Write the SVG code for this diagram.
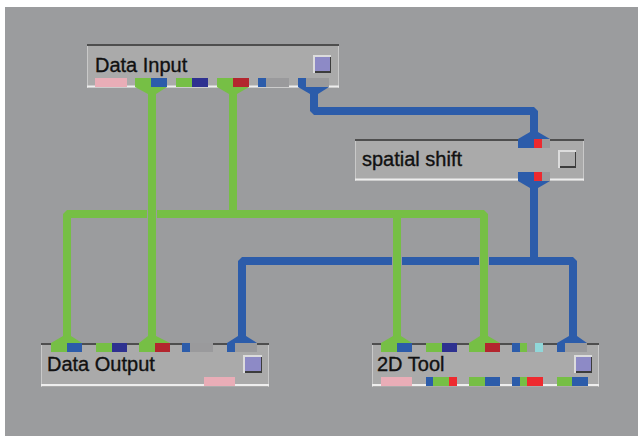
<svg xmlns="http://www.w3.org/2000/svg" width="638" height="436" viewBox="0 0 638 436">
<style>
.bg{fill:#9b9c9e}
.box{fill:#aaaaaa}
.top{stroke:#4e4e4e;stroke-width:2}
.side{stroke:#c9c9c9;stroke-width:1}
.bot{stroke:#eeeeee;stroke-width:2}
.lbl{font-family:"Liberation Sans",Arial,sans-serif;font-size:20px;fill:#111;stroke:#111;stroke-width:0.35}
.g{fill:#76bf45}.b{fill:#2c5caa}.n{fill:#2e3190}.r{fill:#b3262e}.R{fill:#ee2a2f}
.p{fill:#e9adb7}.q{fill:#9a9a9c}.c{fill:#90d7d9}
.wg{fill:none;stroke:#76bf45;stroke-width:8;stroke-linejoin:bevel}
.wb{fill:none;stroke:#2c5caa;stroke-width:8;stroke-linejoin:bevel}
.halo{stroke:#9b9c9e;stroke-width:10}
.btn-hi{fill:#dcdcdc}.btn-sh{fill:#3c3c3c}.btn-p{fill:#8d8ac6}.btn-g{fill:#acacac}
</style>
<rect width="638" height="436" fill="#ffffff"/>
<rect class="bg" x="5" y="7" width="633" height="429"/>

<g id="connectors">
<path class="wb" d="M242 336V261H573V336"/>
<path class="wb" d="M534 188V261"/>
<path class="wb" d="M314 94V111H534V132"/>
<path class="wg" d="M67 336V214H484V336"/>
<line class="halo" x1="152" y1="203" x2="152" y2="225"/>
<line class="halo" x1="397" y1="250" x2="397" y2="272"/>
<line class="halo" x1="484" y1="250" x2="484" y2="272"/>
<path class="wg" d="M152 94V336"/>
<path class="wg" d="M233 94V214"/>
<path class="wg" d="M397 214V336"/>
<path class="wg" d="M484 250V272"/>
</g>

<g id="data-input">
<rect class="box" x="87" y="44" width="252" height="44"/>
<line class="top" x1="87" y1="45" x2="339" y2="45"/>
<line class="side" x1="87.5" y1="46" x2="87.5" y2="88"/>
<line class="side" x1="338.5" y1="46" x2="338.5" y2="88"/>
<line class="bot" x1="87" y1="86.5" x2="339" y2="86.5"/>
<text class="lbl" x="95" y="72">Data Input</text>
<rect class="btn-hi" x="313" y="55" width="18" height="18"/>
<rect class="btn-sh" x="315" y="71" width="16" height="2"/>
<rect class="btn-sh" x="330" y="57" width="1" height="16"/>
<rect class="btn-p" x="315" y="57" width="15" height="14"/>
<rect class="p" x="95" y="78" width="32" height="9"/>
<polygon class="g" points="135,87 167,87 156,94 148,94"/>
<rect class="g" x="135" y="78" width="16" height="9"/><rect class="b" x="151" y="78" width="16" height="9"/>
<rect class="g" x="176" y="78" width="16" height="9"/><rect class="n" x="192" y="78" width="16" height="9"/>
<polygon class="g" points="217,87 249,87 237,94 229,94"/>
<rect class="g" x="217" y="78" width="16" height="9"/><rect class="r" x="233" y="78" width="16" height="9"/>
<rect class="b" x="258" y="78" width="8" height="9"/><rect class="q" x="266" y="78" width="23" height="9"/>
<polygon class="b" points="298,87 329,87 318,94 310,94"/>
<rect class="b" x="298" y="78" width="8" height="9"/><rect class="q" x="306" y="78" width="23" height="9"/>
</g>

<g id="spatial-shift">
<rect class="box" x="355" y="139" width="229" height="42"/>
<line class="top" x1="355" y1="140" x2="584" y2="140"/>
<line class="side" x1="355.5" y1="141" x2="355.5" y2="181"/>
<line class="side" x1="583.5" y1="141" x2="583.5" y2="181"/>
<line class="bot" x1="355" y1="179.5" x2="584" y2="179.5"/>
<text class="lbl" x="362" y="166">spatial shift</text>
<rect class="btn-hi" x="558" y="150" width="18" height="18"/>
<rect class="btn-sh" x="560" y="166" width="16" height="2"/>
<rect class="btn-sh" x="575" y="152" width="1" height="16"/>
<rect class="btn-g" x="560" y="152" width="15" height="14"/>
<polygon class="b" points="530,132 538,132 550,139 518,139"/>
<rect class="b" x="518" y="139" width="16" height="9"/><rect class="R" x="534" y="139" width="8" height="9"/><rect class="q" x="542" y="139" width="8" height="9"/>
<polygon class="b" points="518,181 550,181 538,188 530,188"/>
<rect class="b" x="518" y="172" width="16" height="9"/><rect class="R" x="534" y="172" width="8" height="9"/><rect class="q" x="542" y="172" width="8" height="9"/>
</g>

<g id="data-output">
<rect class="box" x="41" y="343" width="228" height="44"/>
<line class="top" x1="41" y1="344" x2="269" y2="344"/>
<line class="side" x1="41.5" y1="345" x2="41.5" y2="387"/>
<line class="side" x1="268.5" y1="345" x2="268.5" y2="387"/>
<line class="bot" x1="41" y1="385" x2="269" y2="385"/>
<text class="lbl" x="47" y="371">Data Output</text>
<rect class="btn-hi" x="243" y="355" width="19" height="18"/>
<rect class="btn-sh" x="245" y="371" width="17" height="2"/>
<rect class="btn-sh" x="261" y="357" width="1" height="16"/>
<rect class="btn-p" x="245" y="357" width="16" height="14"/>
<polygon class="g" points="63,336 71,336 82,343 51,343"/>
<rect class="g" x="51" y="343" width="16" height="9"/><rect class="b" x="67" y="343" width="15" height="9"/>
<rect class="g" x="96" y="343" width="16" height="9"/><rect class="n" x="112" y="343" width="15" height="9"/>
<polygon class="g" points="148,336 156,336 170,343 139,343"/>
<rect class="g" x="139" y="343" width="16" height="9"/><rect class="r" x="155" y="343" width="15" height="9"/>
<rect class="b" x="182" y="343" width="8" height="9"/><rect class="q" x="190" y="343" width="23" height="9"/>
<polygon class="b" points="238,336 246,336 257,343 227,343"/>
<rect class="b" x="227" y="343" width="8" height="9"/><rect class="q" x="235" y="343" width="22" height="9"/>
<rect class="p" x="204" y="377" width="31" height="9"/>
</g>

<g id="tool-2d">
<rect class="box" x="372" y="343" width="227" height="44"/>
<line class="top" x1="372" y1="344" x2="599" y2="344"/>
<line class="side" x1="372.5" y1="345" x2="372.5" y2="387"/>
<line class="side" x1="598.5" y1="345" x2="598.5" y2="387"/>
<line class="bot" x1="372" y1="385" x2="599" y2="385"/>
<text class="lbl" x="377" y="371">2D Tool</text>
<rect class="btn-hi" x="574" y="355" width="18" height="18"/>
<rect class="btn-sh" x="576" y="371" width="16" height="2"/>
<rect class="btn-sh" x="591" y="357" width="1" height="16"/>
<rect class="btn-p" x="576" y="357" width="15" height="14"/>
<polygon class="g" points="393,336 401,336 412,343 381,343"/>
<rect class="g" x="381" y="343" width="16" height="9"/><rect class="b" x="397" y="343" width="15" height="9"/>
<rect class="g" x="426" y="343" width="16" height="9"/><rect class="n" x="442" y="343" width="15" height="9"/>
<polygon class="g" points="480,336 488,336 500,343 469,343"/>
<rect class="g" x="469" y="343" width="16" height="9"/><rect class="r" x="485" y="343" width="15" height="9"/>
<rect class="b" x="512" y="343" width="8" height="9"/><rect class="g" x="520" y="343" width="7" height="9"/><rect class="q" x="527" y="343" width="8" height="9"/><rect class="c" x="535" y="343" width="8" height="9"/>
<polygon class="b" points="569,336 577,336 587,343 557,343"/>
<rect class="b" x="557" y="343" width="8" height="9"/><rect class="q" x="565" y="343" width="22" height="9"/>
<rect class="p" x="381" y="377" width="31" height="9"/>
<rect class="b" x="426" y="377" width="7" height="9"/><rect class="g" x="433" y="377" width="16" height="9"/><rect class="R" x="449" y="377" width="8" height="9"/>
<rect class="g" x="469" y="377" width="16" height="9"/><rect class="b" x="485" y="377" width="15" height="9"/>
<rect class="b" x="512" y="377" width="8" height="9"/><rect class="g" x="520" y="377" width="7" height="9"/><rect class="R" x="527" y="377" width="16" height="9"/>
<rect class="g" x="557" y="377" width="15" height="9"/><rect class="b" x="572" y="377" width="16" height="9"/>
</g>
</svg>
